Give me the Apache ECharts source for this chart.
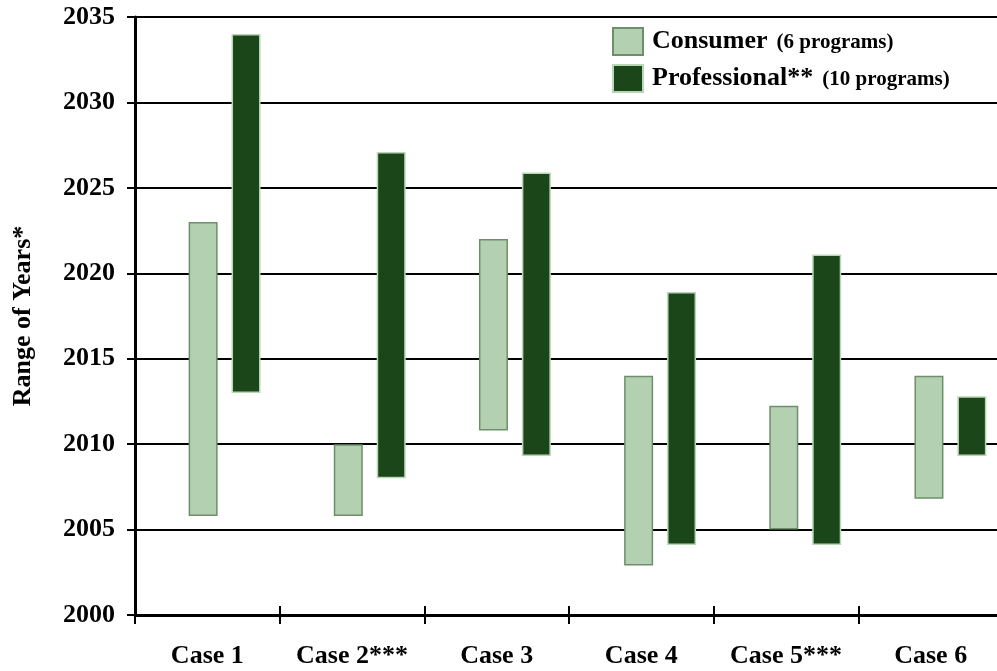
<!DOCTYPE html>
<html>
<head>
<meta charset="utf-8">
<script src="https://cdn.jsdelivr.net/npm/echarts@6/dist/echarts.min.js"></script>
<style>
html,body{margin:0;padding:0;background:#fff;overflow:hidden;}
#chart{width:1040px;height:671px;}
</style>
</head>
<body>
<div id="chart"></div>
<script>
var cases = ['Case 1', 'Case 2***', 'Case 3', 'Case 4', 'Case 5***', 'Case 6'];
var consumerLow  = [2005.8, 2005.8, 2010.8, 2002.9, 2005.0, 2006.8];
var consumerHigh = [2023.0, 2010.0, 2022.0, 2014.0, 2012.25, 2014.0];
var proLow  = [2013.0, 2008.0, 2009.3, 2004.1, 2004.1, 2009.3];
var proHigh = [2034.0, 2027.1, 2025.9, 2018.9, 2021.1, 2012.8];
var seriesNames = ['Consumer', 'Professional**'];
var programCounts = ['(6 programs)', '(10 programs)'];
var yTicks = {min: 2000, max: 2035, interval: 5};

function diff(hi, lo) { return hi.map(function (v, i) { return +(v - lo[i]).toFixed(3); }); }

var FONT = '"Liberation Serif", "Times New Roman", serif';

var chart = echarts.init(document.getElementById('chart'));
chart.setOption({
  backgroundColor: '#ffffff',
  animation: false,
  textStyle: {fontFamily: FONT},
  grid: [
    {left: 135, top: 17, bottom: 56, width: 868},
    {left: 135, top: 17, bottom: 56, width: 868},
    {left: 152, top: 17, bottom: 56, width: 871}
  ],
  legend: {
    data: seriesNames,
    orient: 'vertical',
    left: 612, top: 27, padding: 0,
    icon: 'rect',
    itemWidth: 30, itemHeight: 27, itemGap: 8,
    selectedMode: false,
    formatter: function (name) {
      var i = seriesNames.indexOf(name);
      return '{a|' + name + '}{b|' + programCounts[i] + '}';
    },
    textStyle: {
      fontFamily: FONT, color: '#000', padding: [0, 0, 0, 4],
      rich: {
        a: {fontFamily: FONT, fontWeight: 'bold', fontSize: 26, color: '#000'},
        b: {fontFamily: FONT, fontWeight: 'bold', fontSize: 21, color: '#000', padding: [2, 0, 0, 9]}
      }
    }
  },
  xAxis: [
    {
      type: 'category', gridIndex: 0, data: cases, boundaryGap: true,
      axisLine: {lineStyle: {color: '#000', width: 3}},
      axisTick: {show: true, inside: false, length: 9, lineStyle: {color: '#000', width: 2}},
      axisLabel: {fontFamily: FONT, fontWeight: 'bold', fontSize: 26, color: '#000', margin: 28, interval: 0},
      splitLine: {show: false}
    },
    {
      type: 'category', gridIndex: 1, data: cases, boundaryGap: true,
      axisLine: {show: true, lineStyle: {color: 'rgba(0,0,0,0)', width: 0}},
      axisTick: {show: true, inside: true, length: 9, lineStyle: {color: '#000', width: 2}},
      axisLabel: {show: false},
      splitLine: {show: false}
    },
    {
      type: 'category', gridIndex: 2, data: cases, boundaryGap: true, show: false
    }
  ],
  yAxis: [
    {
      type: 'value', gridIndex: 0, min: yTicks.min, max: yTicks.max, interval: yTicks.interval,
      name: 'Range of Years*', nameLocation: 'middle', nameGap: 99,
      nameTextStyle: {fontFamily: FONT, fontWeight: 'bold', fontSize: 26, color: '#000'},
      axisLine: {show: true, lineStyle: {color: '#000', width: 3}},
      axisTick: {show: true, length: 8, lineStyle: {color: '#000', width: 2}},
      axisLabel: {fontFamily: FONT, fontWeight: 'bold', fontSize: 26, color: '#000', margin: 20,
        formatter: function (v) { return String(v); }},
      splitLine: {show: true, lineStyle: {color: '#000', width: 2}}
    },
    {
      type: 'value', gridIndex: 1, min: yTicks.min, max: yTicks.max, interval: yTicks.interval, show: false,
      splitLine: {show: false}
    },
    {
      type: 'value', gridIndex: 2, min: yTicks.min, max: yTicks.max, interval: yTicks.interval, show: false,
      splitLine: {show: false}
    }
  ],
  series: [
    {
      name: 'consumerBase', type: 'bar', xAxisIndex: 2, yAxisIndex: 2, stack: 'c',
      data: consumerLow, barWidth: 29, barGap: '48%',
      itemStyle: {color: 'rgba(0,0,0,0)'}, silent: true
    },
    {
      name: seriesNames[0], type: 'bar', xAxisIndex: 2, yAxisIndex: 2, stack: 'c',
      data: diff(consumerHigh, consumerLow), barWidth: 29, barGap: '48%',
      itemStyle: {color: '#b3d1b1', borderColor: '#6e8f6b', borderWidth: 1.5}
    },
    {
      name: 'proBase', type: 'bar', xAxisIndex: 2, yAxisIndex: 2, stack: 'p',
      data: proLow, barWidth: 29, barGap: '48%',
      itemStyle: {color: 'rgba(0,0,0,0)'}, silent: true
    },
    {
      name: seriesNames[1], type: 'bar', xAxisIndex: 2, yAxisIndex: 2, stack: 'p',
      data: diff(proHigh, proLow), barWidth: 29, barGap: '48%',
      itemStyle: {color: '#1b4619', borderColor: '#b9d7b6', borderWidth: 1.5}
    }
  ]
});
</script>
</body>
</html>
